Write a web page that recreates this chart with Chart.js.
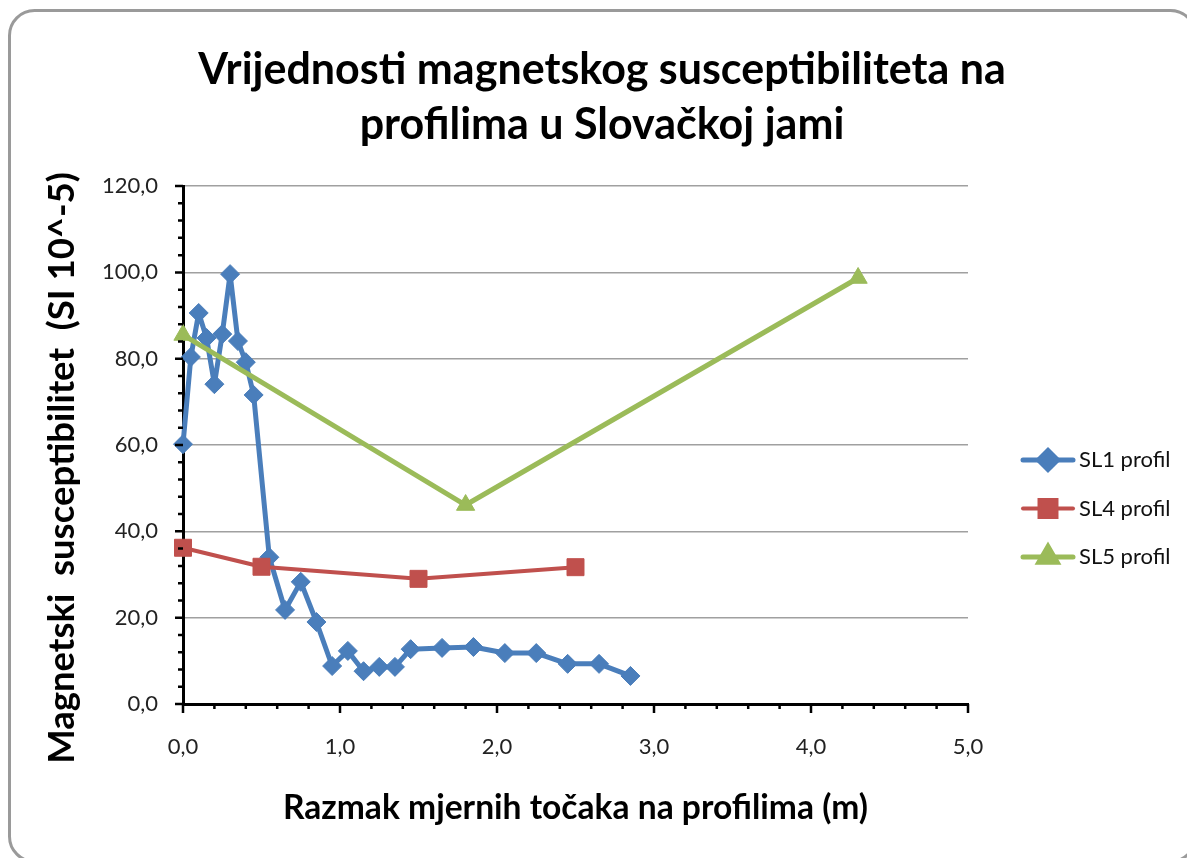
<!DOCTYPE html>
<html><head><meta charset="utf-8">
<script src="https://cdn.jsdelivr.net/npm/chart.js@4/dist/chart.umd.min.js"></script>
<style>html,body{margin:0;padding:0;background:#fff}#wrap{width:1187px;height:858px}</style>
</head><body><div id="wrap"><canvas id="c" width="1187" height="858"></canvas></div>
<script>
// ---- data ----
const sl1X = [0,0.05,0.1,0.15,0.2,0.25,0.3,0.35,0.4,0.45,0.55,0.65,0.75,0.85,0.95,1.05,1.15,1.25,1.35,1.45,1.65,1.85,2.05,2.25,2.45,2.65,2.85];
const sl1Y = [60.2,80.4,90.6,84.8,74.1,85.7,99.6,84.1,79.2,71.6,34.0,21.8,28.3,19.0,8.8,12.3,7.6,8.6,8.6,12.7,13.0,13.2,11.8,11.8,9.3,9.3,6.5];
const sl4X = [0,0.5,1.5,2.5];
const sl4Y = [36.2,31.8,29.0,31.7];
const sl5X = [0,1.8,4.3];
const sl5Y = [85.5,46.1,98.7];
const seriesNames = ['SL1 profil','SL4 profil','SL5 profil'];
const titleLines = ['Vrijednosti magnetskog susceptibiliteta na','profilima u Slovačkoj jami'];
const xTitle = 'Razmak mjernih točaka na profilima (m)';
const yTitle = 'Magnetski  susceptibilitet  (SI 10^-5)';
const xMin = 0, xMax = 5, xStep = 1, xMinor = 0.2;
const yMin = 0, yMax = 120, yStep = 20, yMinor = 4;

const FONT = 'Lato';
const fmt = v => Number(v).toFixed(1).replace('.', ',');
const pts = (xs, ys) => xs.map((x, i) => ({x, y: ys[i]}));

const border = {
  id: 'frame',
  beforeDraw(chart) {
    const ctx = chart.ctx;
    ctx.save();
    ctx.fillStyle = '#fff';
    ctx.fillRect(0, 0, chart.width, chart.height);
    ctx.strokeStyle = '#9a9a9a';
    ctx.lineWidth = 3;
    ctx.beginPath();
    ctx.roundRect(9.5, 10.5, 1186, 851, 25);
    ctx.stroke();
    ctx.restore();
  }
};

const tickMarks = {
  id: 'tickMarks',
  afterDraw(chart) {
    const {ctx, chartArea: a, scales: {x, y}} = chart;
    ctx.save();
    ctx.strokeStyle = '#000';
    ctx.lineWidth = 2.5;
    ctx.beginPath();
    const nY = Math.round((yMax - yMin) / yMinor);
    for (let i = 0; i <= nY; i++) {
      const v = yMin + i * yMinor;
      const py = y.getPixelForValue(v);
      const len = (Math.abs(v % yStep) < 1e-6) ? 8 : 5;
      ctx.moveTo(a.left - len, py); ctx.lineTo(a.left, py);
    }
    const nX = Math.round((xMax - xMin) / xMinor);
    for (let i = 0; i <= nX; i++) {
      const v = xMin + i * xMinor;
      const px = x.getPixelForValue(v);
      const len = (i % Math.round(xStep / xMinor) === 0) ? 9 : 5;
      ctx.moveTo(px, a.bottom); ctx.lineTo(px, a.bottom + len);
    }
    ctx.stroke();
    // y axis title (positioned like the reference, slightly below the plot centre)
    ctx.save();
    ctx.translate(62.5, (a.top + a.bottom) / 2 + 23);
    ctx.rotate(-Math.PI / 2);
    ctx.fillStyle = '#000';
    ctx.font = 'bold 36.5px ' + FONT;
    ctx.textAlign = 'center';
    ctx.textBaseline = 'middle';
    ctx.fillText(yTitle, 0, 0);
    ctx.restore();
    ctx.restore();
  }
};

const legendPlugin = {
  id: 'customLegend',
  afterDraw(chart) {
    const {ctx, chartArea: a} = chart;
    const lx = a.right + 55;
    const y0 = a.top + 274, dy = 48.5;
    ctx.save();
    chart.data.datasets.forEach((ds, i) => {
      const yy = y0 + i * dy;
      ctx.strokeStyle = ds.borderColor;
      ctx.lineWidth = ds.borderWidth;
      ctx.lineCap = 'round';
      ctx.beginPath(); ctx.moveTo(lx, yy); ctx.lineTo(lx + 50, yy); ctx.stroke();
      ctx.fillStyle = ds.pointBackgroundColor;
      ctx.strokeStyle = ds.pointBorderColor;
      Chart.helpers.drawPoint(ctx, {pointStyle: ds.pointStyle, radius: ds.pointRadius, rotation: 0, borderWidth: 1}, lx + 25, yy);
      ctx.fillStyle = '#111';
      ctx.font = '22px ' + FONT;
      ctx.textBaseline = 'middle';
      ctx.textAlign = 'left';
      ctx.fillText(ds.label, lx + 56, yy);
    });
    ctx.restore();
  }
};

const blue = '#4a7ebb', red = '#c0504d', green = '#9bbb59';
const common = {tension: 0, clip: false, borderJoinStyle: 'round', borderCapStyle: 'round', pointBorderWidth: 1};

new Chart(document.getElementById('c'), {
  type: 'line',
  data: {
    datasets: [
      Object.assign({label: seriesNames[0], data: pts(sl1X, sl1Y), borderColor: blue, borderWidth: 5, pointStyle: 'rectRot', pointRadius: 9.5,
       pointBackgroundColor: blue, pointBorderColor: blue, order: 3}, common),
      Object.assign({label: seriesNames[1], data: pts(sl4X, sl4Y), borderColor: red, borderWidth: 4, pointStyle: 'rect', pointRadius: 12,
       pointBackgroundColor: red, pointBorderColor: red, order: 2}, common),
      Object.assign({label: seriesNames[2], data: pts(sl5X, sl5Y), borderColor: green, borderWidth: 5, pointStyle: 'triangle', pointRadius: 10.5,
       pointBackgroundColor: green, pointBorderColor: green, order: 1}, common)
    ]
  },
  options: {
    responsive: false,
    animation: false,
    devicePixelRatio: 1,
    layout: {padding: {left: 19, right: 2, top: 10, bottom: 0}},
    plugins: {
      legend: {display: false},
      tooltip: {enabled: false},
      title: {
        display: true, text: titleLines, color: '#000',
        font: {family: FONT, weight: 'bold', size: 43, lineHeight: 1.28},
        padding: {top: 32.5, bottom: 33.5}
      }
    },
    scales: {
      x: {
        type: 'linear', min: xMin, max: xMax,
        ticks: {stepSize: xStep, callback: v => fmt(v), color: '#222', font: {family: FONT, size: 22}, padding: 30, maxRotation: 0},
        grid: {display: false, drawTicks: false},
        border: {display: true, color: '#000', width: 3},
        title: {display: true, text: xTitle, color: '#000', font: {family: FONT, weight: 'bold', size: 33.6, lineHeight: 1.2}, padding: {top: 0, bottom: 30}},
        afterFit(s) { s.height = 154; }
      },
      y: {
        type: 'linear', min: yMin, max: yMax,
        ticks: {stepSize: yStep, callback: v => fmt(v), color: '#222', font: {family: FONT, size: 22}, padding: 25},
        grid: {color: '#a0a0a0', lineWidth: 1.5, drawTicks: false},
        border: {display: true, color: '#000', width: 3},
        title: {display: false},
        afterFit(s) { s.width = 164; }
      },
      yRight: {
        type: 'linear', axis: 'y', position: 'right', display: true,
        ticks: {display: false}, grid: {display: false, drawTicks: false}, border: {display: false},
        afterFit(s) { s.width = 217; }
      }
    }
  },
  plugins: [border, tickMarks, legendPlugin]
});
</script>
</body></html>
